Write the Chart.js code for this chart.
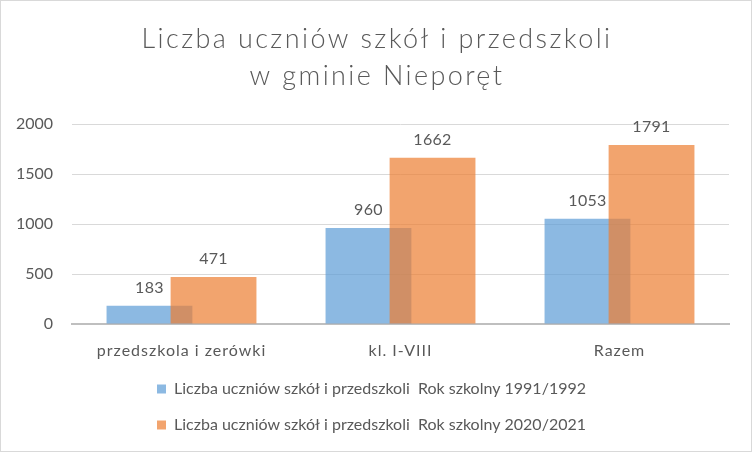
<!DOCTYPE html>
<html>
<head>
<meta charset="utf-8">
<script src="https://cdn.jsdelivr.net/npm/chart.js"></script>
<style>
  html, body { margin: 0; padding: 0; background: #fff; }
  #wrap {
    width: 752px; height: 452px; box-sizing: border-box;
    border: 1px solid #d9d9d9; position: relative;
  }
</style>
</head>
<body>
<div id="wrap"><canvas id="chart"></canvas></div>
<script>
// data
const categories = ["przedszkola i zerówki", "kl. I-VIII", "Razem"];
const seriesNames = [
    "Liczba uczniów szkół i przedszkoli  Rok szkolny 1991/1992",
    "Liczba uczniów szkół i przedszkoli  Rok szkolny 2020/2021"
];
const values1991 = [183, 960, 1053];
const values2020 = [471, 1662, 1791];
const yTicks = [0, 500, 1000, 1500, 2000];
const titleLines = ["Liczba uczniów szkół i przedszkoli", "w gminie Nieporęt"];

const textColor = "#595959";
const fontFamily = "Lato, 'Open Sans', sans-serif";

// Excel draws the second series over the first one, Chart.js does the opposite,
// so draw the datasets ourselves in index order
const drawInOrder = {
    id: "drawInOrder",
    beforeDatasetsDraw(chart) {
        const area = chart.chartArea;
        const ctx = chart.ctx;
        ctx.save();
        ctx.beginPath();
        ctx.rect(area.left, area.top - 20, area.right - area.left, area.bottom - area.top + 20);
        ctx.clip();
        chart.data.datasets.forEach((ds, i) => {
            const meta = chart.getDatasetMeta(i);
            if (meta.visible) meta.controller.draw();
        });
        ctx.restore();
        return false;
    }
};

// title, category labels and value labels (letter spaced like the Excel original)
const textLayer = {
    id: "textLayer",
    afterDraw(chart) {
        const ctx = chart.ctx;
        const xScale = chart.scales.x;
        ctx.save();
        ctx.fillStyle = textColor;
        ctx.textAlign = "center";

        ctx.font = "300 27px " + fontFamily;
        ctx.letterSpacing = "2.4px";
        ctx.textBaseline = "alphabetic";
        ctx.fillText(titleLines[0], chart.width / 2 + 1, 46.5);
        ctx.fillText(titleLines[1], chart.width / 2 + 1, 84);

        ctx.font = "16px " + fontFamily;
        ctx.letterSpacing = "1px";
        ctx.textBaseline = "middle";
        categories.forEach((c, i) => {
            ctx.fillText(c, xScale.getPixelForValue(i), chart.chartArea.bottom + 27);
        });

        ctx.letterSpacing = "0.3px";
        ctx.textBaseline = "bottom";
        chart.data.datasets.forEach((ds, i) => {
            const meta = chart.getDatasetMeta(i);
            meta.data.forEach((bar, j) => {
                ctx.fillText(ds.data[j], bar.x, bar.y - 10);
            });
        });
        ctx.restore();
    }
};

const ctx = document.getElementById("chart");
new Chart(ctx, {
    type: "bar",
    data: {
        labels: categories,
        datasets: [
            {
                label: seriesNames[0],
                data: values1991,
                backgroundColor: "rgba(91,155,213,0.7)",
                categoryPercentage: 0.585,
                barPercentage: 1.34,
            },
            {
                label: seriesNames[1],
                data: values2020,
                backgroundColor: "rgba(237,125,49,0.7)",
                categoryPercentage: 0.585,
                barPercentage: 1.34,
            }
        ]
    },
    options: {
        responsive: true,
        maintainAspectRatio: false,
        animation: false,
        layout: { padding: { left: 13, right: 22, top: 123, bottom: 8 } },
        plugins: {
            title: { display: false },
            legend: {
                position: "bottom",
                labels: {
                    color: textColor,
                    font: { family: fontFamily, size: 16 },
                    boxWidth: 9,
                    boxHeight: 9,
                    padding: 20,
                },
            },
            tooltip: { enabled: false },
        },
        scales: {
            x: {
                grid: { display: false },
                border: { color: "#bfbfbf", width: 2 },
                ticks: { display: false },
                afterFit(axis) { axis.height = 37; },
            },
            y: {
                min: yTicks[0],
                max: yTicks[yTicks.length - 1],
                afterBuildTicks(axis) {
                    axis.ticks = yTicks.map(v => ({ value: v }));
                },
                afterFit(axis) { axis.width = 58; },
                grid: { color: "#d9d9d9", drawTicks: false },
                border: { display: false },
                ticks: {
                    color: textColor,
                    font: { family: fontFamily, size: 16 },
                    padding: 19,
                    callback: (v) => String(v),
                },
            },
        },
    },
    plugins: [drawInOrder, textLayer],
});
</script>
</body>
</html>
